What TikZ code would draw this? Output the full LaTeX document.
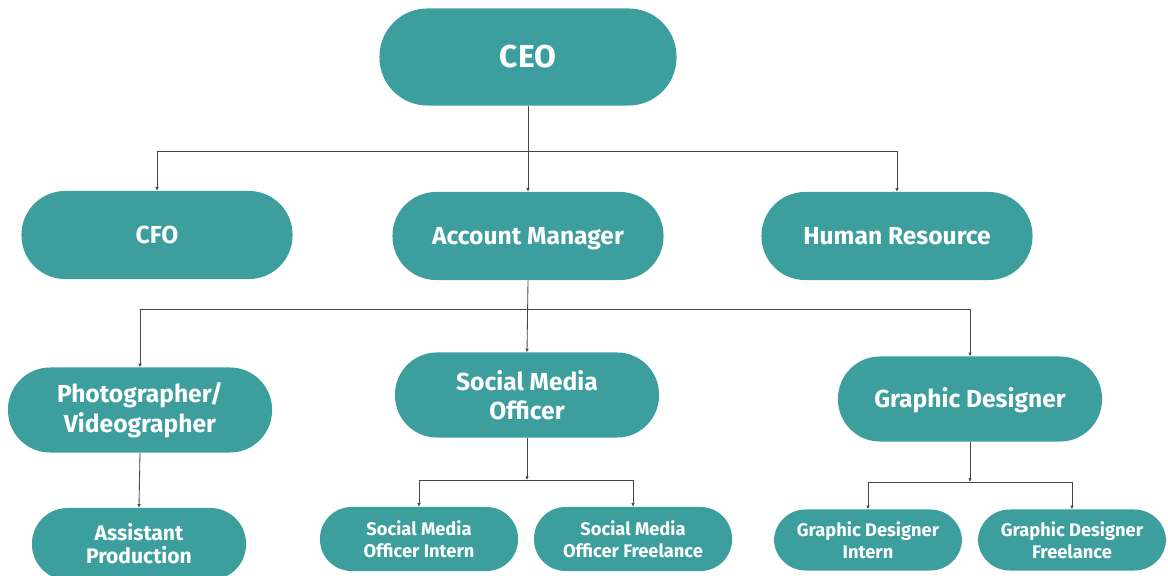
\documentclass[tikz,border=0pt]{standalone}
\usepackage{fontspec}
\setmainfont{Fira Sans}
\usetikzlibrary{arrows.meta}

\definecolor{orgteal}{RGB}{61,158,158}
\definecolor{linkgray}{RGB}{70,70,70}

\tikzset{
  box/.style={fill=orgteal, text=white, inner sep=0pt, align=center},
  topbox/.style={box, minimum width=7.425cm, minimum height=2.425cm,
    rounded corners=1.2cm, font=\fontsize{22.5}{26}\selectfont\bfseries},
  midbox/.style={box, minimum width=6.775cm, minimum height=2.2cm,
    rounded corners=1.09cm, text height=12pt, text depth=0pt,
    font=\fontsize{17.5}{21}\selectfont\bfseries},
  lowbox/.style={box, minimum width=6.6cm, minimum height=2.125cm,
    rounded corners=1.05cm, font=\fontsize{17.5}{21}\selectfont\bfseries},
  leafbox/.style={box, minimum width=4.95cm, minimum height=1.6cm,
    rounded corners=0.79cm, font=\fontsize{13}{15.8}\selectfont\bfseries},
  link/.style={draw=linkgray, line width=0.6pt, -{Latex[length=2.5pt,width=2.5pt]}}
}

\begin{document}
\begin{tikzpicture}[x=0.025cm, y=-0.025cm]
  \useasboundingbox (0,0) rectangle (1168,576);
  \clip (0,0) rectangle (1168,576);

  % Top level
  \node[topbox] (ceo) at (528,57) {CEO};

  % Second level
  \node[midbox] (cfo) at (157,235) {CFO};
  \node[midbox] (am) at (528,236) {Account Manager};
  \node[midbox] (hr) at (897,236) {Human Resource};

  % Third level
  \node[lowbox] (photo) at (140,410) {Photographer/\\Videographer};
  \node[lowbox] (smo) at (527,395) {Social Media\\Officer};
  \node[lowbox, text height=12pt, text depth=0pt] (gd) at (970,399) {Graphic Designer};

  % Bottom level
  \node[leafbox, minimum width=5.35cm, minimum height=1.8cm,
    rounded corners=0.89cm, font=\fontsize{15}{16.5}\selectfont\bfseries]
    (asst) at (139,544) {Assistant\\Production};
  \node[leafbox] (smi) at (419,539) {Social Media\\Officer Intern};
  \node[leafbox] (smf) at (633,539) {Social Media\\Officer Freelance};
  \node[leafbox, minimum width=4.7cm, minimum height=1.525cm] (gdi) at (868,540) {Graphic Designer\\Intern};
  \node[leafbox, minimum width=4.7cm, minimum height=1.525cm] (gdf) at (1072,540) {Graphic Designer\\Freelance};

  % Connect CEO to second level
  \coordinate (ceobus) at (528,151);
  \draw[link] (ceo.south) -- (am.north);
  \draw[link] (ceobus) -| (cfo.north);
  \draw[link] (ceobus) -| (hr.north);

  % Connect account manager to third level
  \coordinate (ambus) at (528,309);
  \draw[link] (am.south) -- (smo.north);
  \draw[link] (ambus) -| (photo.north);
  \draw[link] (ambus) -| (gd.north);

  % Connect third level to bottom level
  \draw[link] (photo.south) -- (asst.north);
  \coordinate (smobus) at (527,480);
  \draw[link] (smo.south) -- (smobus);
  \draw[link] (smobus) -| (smi.north);
  \draw[link] (smobus) -| (smf.north);
  \coordinate (gdbus) at (970,482);
  \draw[link] (gd.south) -- (gdbus);
  \draw[link] (gdbus) -| (gdi.north);
  \draw[link] (gdbus) -| (gdf.north);

\end{tikzpicture}
\end{document}
